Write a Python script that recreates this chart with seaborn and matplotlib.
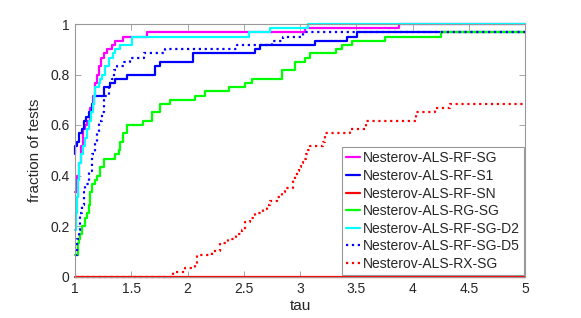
import numpy as np
import pandas as pd
import matplotlib
matplotlib.use("Agg")
import matplotlib.pyplot as plt
import seaborn as sns

N_TESTS = 60

labels = ["Nesterov-ALS-RF-SG", "Nesterov-ALS-RF-S1", "Nesterov-ALS-RF-SN",
          "Nesterov-ALS-RG-SG", "Nesterov-ALS-RF-SG-D2", "Nesterov-ALS-RF-SG-D5",
          "Nesterov-ALS-RX-SG"]

rf_sg_tau = [1.000, 1.018, 1.036, 1.053, 1.071, 1.089, 1.107, 1.133, 1.160, 1.178, 1.196,
             1.213, 1.231, 1.258, 1.284, 1.329, 1.356, 1.427, 1.640, 3.044, 3.880]
rf_sg_cnt = [20, 24, 27, 31, 35, 36, 37, 40, 43, 46, 48, 50, 52, 53, 54, 55, 56, 57, 58, 59, 60]

rf_s1_tau = [1.000, 1.004, 1.018, 1.036, 1.062, 1.080, 1.098, 1.124, 1.151, 1.169, 1.255,
             1.311, 1.356, 1.462, 1.711, 1.756, 2.049, 2.600, 2.644, 3.133, 3.418, 3.507]
rf_s1_cnt = [29, 31, 32, 34, 35, 37, 38, 39, 41, 43, 45, 46, 47, 48, 50, 51, 53, 54, 55, 56, 57, 58]

rf_sn_tau = [1.000]
rf_sn_cnt = [0]

rg_sg_tau = [1.000, 1.027, 1.033, 1.044, 1.062, 1.092, 1.107, 1.120, 1.136, 1.151, 1.180,
             1.196, 1.225, 1.255, 1.358, 1.388, 1.403, 1.429, 1.460, 1.607, 1.682, 1.756,
             1.844, 2.067, 2.156, 2.369, 2.511, 2.573, 2.840, 2.956, 3.044, 3.089, 3.320,
             3.373, 3.462, 3.756, 4.253]
rg_sg_cnt = [5, 8, 9, 10, 12, 14, 15, 17, 20, 22, 23, 24, 26, 28, 29, 30, 32, 34, 36, 37, 39, 41,
             42, 43, 44, 45, 46, 47, 49, 51, 52, 53, 54, 55, 56, 57, 58]

d2_tau = [1.000, 1.009, 1.018, 1.027, 1.036, 1.053, 1.071, 1.089, 1.107, 1.120, 1.142, 1.160,
          1.173, 1.182, 1.209, 1.222, 1.240, 1.267, 1.298, 1.342, 1.356, 1.400, 1.507, 2.547,
          2.733, 3.071]
d2_cnt = [11, 15, 19, 23, 27, 29, 31, 33, 35, 37, 39, 41, 43, 45, 46, 47, 48, 50, 52, 53, 54,
          55, 57, 58, 59, 60]

d5_tau = [1.000, 1.018, 1.033, 1.047, 1.062, 1.077, 1.092, 1.122, 1.151, 1.180, 1.196, 1.211,
          1.240, 1.255, 1.269, 1.300, 1.329, 1.344, 1.373, 1.433, 1.492, 1.609, 1.800, 2.440,
          2.751, 2.849, 3.027]
d5_cnt = [5, 9, 11, 15, 17, 20, 22, 25, 29, 32, 34, 37, 39, 42, 43, 46, 47, 49, 50, 51, 52, 53,
          54, 55, 56, 57, 58]

rx_sg_tau = [1.000, 1.874, 1.978, 2.067, 2.082, 2.215, 2.289, 2.363, 2.431, 2.482, 2.511, 2.556,
             2.600, 2.674, 2.704, 2.733, 2.793, 2.837, 2.867, 2.935, 2.940, 2.956, 2.973, 2.991,
             3.009, 3.027, 3.053, 3.071, 3.089, 3.207, 3.222, 3.444, 3.591, 4.031, 4.200, 4.333]
rx_sg_cnt = [0, 1, 2, 3, 5, 6, 8, 9, 10, 11, 13, 14, 15, 16, 17, 18, 19, 20, 21, 22, 23, 24, 25,
             26, 27, 28, 29, 30, 31, 32, 34, 35, 37, 39, 40, 41]

colors = ["#FF00FF", "#0000FF", "#FF0000", "#00FF00", "#00FFFF", "#0000FF", "#FF0000"]
styles = ["-", "-", "-", "-", "-", ":", ":"]

series = [(rf_sg_tau, rf_sg_cnt), (rf_s1_tau, rf_s1_cnt), (rf_sn_tau, rf_sn_cnt),
          (rg_sg_tau, rg_sg_cnt), (d2_tau, d2_cnt), (d5_tau, d5_cnt), (rx_sg_tau, rx_sg_cnt)]
TAU_MAX = 5.0

sns.set_style("ticks")
plt.rcParams["font.family"] = ["Liberation Sans", "DejaVu Sans"]

fig = plt.figure(figsize=(5.81, 3.18), dpi=100)
ax = fig.add_axes([75 / 581, 1 - 276.5 / 318, 450 / 581, 252.5 / 318])

for lab, (t, c), col, ls in zip(labels, series, colors, styles):
    df = pd.DataFrame({"tau": list(t) + [TAU_MAX],
                       "frac": [v / N_TESTS for v in c] + [c[-1] / N_TESTS]})
    sns.lineplot(data=df, x="tau", y="frac", ax=ax, color=col, linestyle=ls,
                 linewidth=1.6, drawstyle="steps-post", estimator=None, sort=False,
                 label=lab, clip_on=False)

ax.set_xlim(1, 5)
ax.set_ylim(0, 1)
ax.set_xticks([1, 1.5, 2, 2.5, 3, 3.5, 4, 4.5, 5])
ax.set_xticklabels(["1", "1.5", "2", "2.5", "3", "3.5", "4", "4.5", "5"])
ax.set_yticks([0, 0.2, 0.4, 0.6, 0.8, 1.0])
ax.set_yticklabels(["0", "0.2", "0.4", "0.6", "0.8", "1"])
ax.tick_params(direction="in", length=4, width=0.6, color="#999999", labelsize=10,
               top=True, right=True, pad=4)
for s in ax.spines.values():
    s.set_visible(True)
    s.set_color("#999999")
    s.set_linewidth(0.8)
ax.set_xlabel("tau", fontsize=11, labelpad=2)
ax.set_ylabel("fraction of tests", fontsize=11, labelpad=6)

leg = ax.legend(loc="lower right", bbox_to_anchor=(1.0, 0.0), fontsize=10,
                frameon=True, fancybox=False, edgecolor="#999999", framealpha=1,
                borderpad=0.3, labelspacing=0.26, handlelength=1.0, handletextpad=0.15,
                borderaxespad=0.1)
leg.get_frame().set_linewidth(0.8)

fig.savefig("out.png", dpi=100)
